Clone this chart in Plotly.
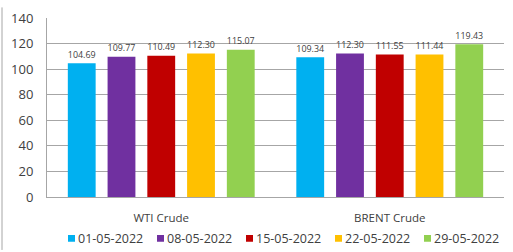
import plotly.graph_objects as go

categories = ["WTI Crude", "BRENT Crude"]
dates = ["01-05-2022", "08-05-2022", "15-05-2022", "22-05-2022", "29-05-2022"]
values = [
    [104.69, 109.34],
    [109.77, 112.30],
    [110.49, 111.55],
    [112.30, 111.44],
    [115.07, 119.43],
]
colors = ["#00B0F0", "#7030A0", "#C00000", "#FFC000", "#92D050"]
y_ticks = [0, 20, 40, 60, 80, 100, 120, 140]

W, H = 513, 252
ML, MR, MT, MB = 47, 9, 11, 55
PW, PH = W - ML - MR, H - MT - MB


def px_x(px):
    return (px - ML) / PW


def px_y(py):
    return (H - MB - py) / PH


fig = go.Figure()
for d, v, c in zip(dates, values, colors):
    fig.add_trace(go.Bar(
        name=d, x=categories, y=v, marker_color=c, marker_line_width=0,
        text=[f"{x:.2f}" for x in v], textposition="outside",
        textfont=dict(size=10.5, color="#404040"), cliponaxis=False,
    ))

shapes = [dict(type="line", xref="paper", yref="paper", x0=px_x(2), x1=px_x(2),
               y0=px_y(252), y1=px_y(0), line=dict(color="#A6A6A6", width=1))]
annotations = []
for i, (d, c) in enumerate(zip(dates, colors)):
    sx = 68 + i * 89
    shapes.append(dict(type="rect", xref="paper", yref="paper",
                       x0=px_x(sx), x1=px_x(sx + 7), y0=px_y(243.5), y1=px_y(236.5),
                       fillcolor=c, line=dict(width=0)))
    annotations.append(dict(xref="paper", yref="paper", x=px_x(sx + 8), y=px_y(240),
                            xanchor="left", yanchor="middle", showarrow=False,
                            text=d, font=dict(size=12.5, color="#404040")))

fig.update_layout(
    width=W, height=H,
    margin=dict(l=ML, r=MR, t=MT, b=MB),
    paper_bgcolor="white", plot_bgcolor="white",
    barmode="group", bargap=0.13, bargroupgap=0.3,
    font=dict(family="Open Sans, Liberation Sans, sans-serif", color="#404040"),
    showlegend=False,
    xaxis=dict(showline=True, linecolor="#A6A6A6", linewidth=1, ticks="",
               tickfont=dict(size=11.5, color="#404040"), ticklabelstandoff=10),
    yaxis=dict(range=[0, 140], tickvals=y_ticks, showgrid=True, gridcolor="#A6A6A6",
               gridwidth=1, showline=True, linecolor="#A6A6A6", zeroline=False,
               ticks="", tickfont=dict(size=13, color="#404040"), ticklabelstandoff=10),
    shapes=shapes,
    annotations=annotations,
)

fig.write_html("out.html", config={"displayModeBar": False},
               post_script="document.body.style.margin='0';document.body.style.overflow='hidden';")
